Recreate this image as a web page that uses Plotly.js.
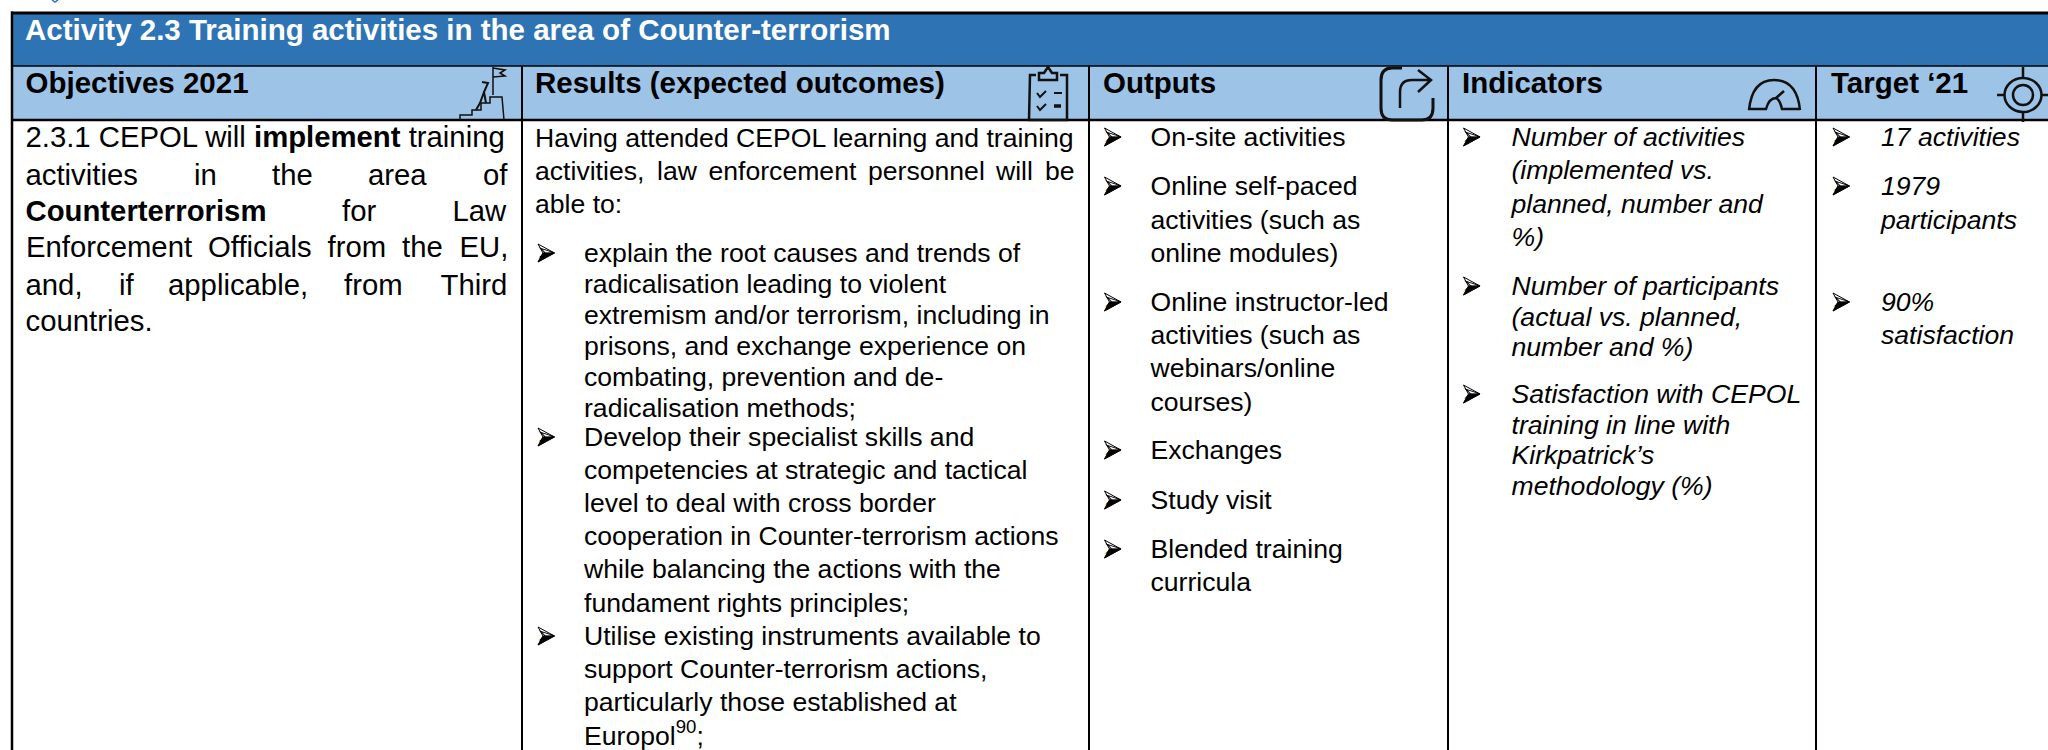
<!DOCTYPE html>
<html><head><meta charset="utf-8">
<script src="https://cdn.plot.ly/plotly-3.0.1.min.js"></script>
<style>html,body{margin:0;padding:0;background:#fff}#c{width:2048px;height:750px}</style>
</head><body><div id="c"></div>
<script>
const titleText = ["<b>Activity 2.3 Training activities in the area of Counter-terrorism</b>"];
const headers = ["<b>Objectives 2021</b>","<b>Results (expected outcomes)</b>","<b>Outputs</b>","<b>Indicators</b>","<b>Target ‘21</b>"];
const objectiveWords = ["2.3.1 CEPOL will <b>implement</b> training","activities","in","the","area","of","<b>Counterterrorism</b>","for","Law","Enforcement","Officials","from","the","EU,","and,","if","applicable,","from","Third","countries."];
const resultsIntro = ["Having attended CEPOL learning and training","activities,","law","enforcement","personnel","will","be","able to:"];
const resultsList = ["explain the root causes and trends of","radicalisation leading to violent","extremism and/or terrorism, including in","prisons, and exchange experience on","combating, prevention and de-","radicalisation methods;","Develop their specialist skills and","competencies at strategic and tactical","level to deal with cross border","cooperation in Counter-terrorism actions","while balancing the actions with the","fundament rights principles;","Utilise existing instruments available to","support Counter-terrorism actions,","particularly those established at","Europol<sup>90</sup>;"];
const outputs = ["On-site activities","Online self-paced","activities (such as","online modules)","Online instructor-led","activities (such as","webinars/online","courses)","Exchanges","Study visit","Blended training","curricula"];
const indicators = ["<i>Number of activities</i>","<i>(implemented vs.</i>","<i>planned, number and</i>","<i>%)</i>","<i>Number of participants</i>","<i>(actual vs. planned,</i>","<i>number and %)</i>","<i>Satisfaction with CEPOL</i>","<i>training in line with</i>","<i>Kirkpatrick’s</i>","<i>methodology (%)</i>"];
const targets = ["<i>17 activities</i>","<i>1979</i>","<i>participants</i>","<i>90%</i>","<i>satisfaction</i>"];
const bullet = "➢";

const FONT = "Liberation Sans, Arial, sans-serif";
const OBJ = 29.3, BODY = 26.6, LIST = 26.6, HEAD = 29.5;

const objX = [25.5,25.5,194,272,368,483,25.5,342,452.5,26,208,327.6,402,459.5,25.5,119,168,344,440.5,25.5];
const objY = [138,176,176,176,176,176,212,212,212,248,248,248,248,248,286,286,286,286,286,322];
const introX = [535,535,657,708.5,868,996,1045,535];
const introY = [138,171,171,171,171,171,171,204];
const listY = [253,284,315,346,377,408,437,470,503,536,569,603,636,669,702,736];
const outY = [137,186,220,253,302,335,368,402,450,500,549,582];
const indY = [137,170,204,237,286,317,347,394,425,455,486];
const tarY = [137,186,220,302,335];
const listBullets = [253,437,636], outBullets=[137,186,302,450,500,549], indBullets=[137,286,394], tarBullets=[137,186,302];

const NUDGE = 2;
function txt(text,x,y,size,color){
  return {type:"scatter",mode:"text",x:x,y:y.map(v=>v+NUDGE),text:text,textposition:"middle right",
    textfont:{family:FONT,size:size,color:color||"#000"},hoverinfo:"skip",showlegend:false};
}
function same(v,n){return Array.from({length:n},()=>v);}
const shapes = [];
function bul(x,ys){
  ys.forEach(y=>{
    shapes.push({type:"path",xref:"x",yref:"y",path:`M${x},${y-9} L${x+16.5},${y} L${x},${y+9} L${x+5},${y} Z`,
      line:{color:"#000",width:1},fillcolor:"#fff",layer:"below"});
    shapes.push({type:"path",xref:"x",yref:"y",path:`M${x+16.5},${y} L${x},${y+9} L${x+5},${y} Z`,
      line:{color:"#000",width:0.5},fillcolor:"#000",layer:"below"});
  });
  return {type:"scatter",mode:"text",x:same(x-2,ys.length),y:ys.map(v=>v+1),text:same(bullet,ys.length),textposition:"middle right",
    textfont:{family:"DejaVu Sans",size:24,color:"#000"},hoverinfo:"skip",showlegend:false};
}
function rect(x0,y0,x1,y1,fill){shapes.push({type:"rect",xref:"x",yref:"y",x0,y0,x1,y1,fillcolor:fill,line:{width:0},layer:"below"});}
function line(x0,y0,x1,y1,w){shapes.push({type:"line",xref:"x",yref:"y",x0,y0,x1,y1,line:{color:"#000",width:w},layer:"below"});}
function ico(path,w,fill){shapes.push({type:"path",xref:"x",yref:"y",path,line:{color:"#111",width:w||2},fillcolor:fill||"rgba(0,0,0,0)"});}
function circ(cx,cy,rx,ry,w){shapes.push({type:"circle",xref:"x",yref:"y",x0:cx-rx,x1:cx+rx,y0:cy-ry,y1:cy+ry,line:{color:"#111",width:w},fillcolor:"rgba(0,0,0,0)"});}
ico("M52,0 L55,2 L58,0",1.5);
shapes[0].line.color="#2E74B5";
rect(12,13,2048,66,"#2E74B5");
rect(12,66,2048,120,"#9DC3E6");
line(11,13,2048,13,3);
line(12,11.5,12,750,2.5);
line(12,66,2048,66,1.5);
line(12,120,2048,120,2.5);
[522,1089,1448,1816].forEach(x=>line(x,66,x,750,2));
// Objectives icon
ico("M493,67 L493,95 M493,68 L505,70 L500,73 L505,76 L493,77",1.5);
ico("M460,120 L460,115 L472,115 L472,110 L481,110 L481,103 L490,103 L490,97 L502,97 L504,120",1.5);
ico("M482,82 L488,83 L484,92 L486,103 M484,92 L480,103 L476,110",2);
// Clipboard
ico("M1036,75 L1030,75 L1029,120 L1067,120 L1067,75 L1060,75",2.5);
ico("M1039,80 L1039,73 L1044,73 L1048,67 L1052,73 L1057,73 L1057,80 Z",2.5);
ico("M1037,93 L1040,97 L1046,91 M1037,106 L1040,110 L1046,104",2);
ico("M1054,93 L1062,93",2);ico("M1054,106 L1061,106",3.5);
// Outputs arrow box
ico("M1402,68 L1392,68 Q1381,68 1381,80 L1381,108 Q1381,120 1392,120 L1422,120 Q1433,120 1433,108 L1433,98",3);
ico("M1400,108 L1400,92 Q1400,80 1412,80 L1431,80 M1418,70 L1431,80 L1418,92",2.5);
// Gauge
ico("M1749,110 Q1752,80 1774,80 Q1797,80 1800,110 M1748,109 L1766,109 Q1769,98 1776,98 L1784,91 M1776,98 Q1780,100 1782,109 L1800,109",2.5);
// Target
circ(2023,95,10,10,2.5);
circ(2023,95,18.5,17,2.5);
ico("M2023,67 L2023,78 M2023,112 L2023,122 M1997,95 L2005,95 M2042,95 L2048,95",2.5);

const traces = [
  txt(titleText,[25],[31],HEAD,"#fff"),
  txt(headers,[25.5,535,1103,1462,1831],[84,84,84,84,84],HEAD),
  txt(objectiveWords,objX,objY,OBJ),
  txt(resultsIntro,introX,introY,BODY),
  txt(resultsList,same(584,resultsList.length),listY,LIST),
  txt(outputs,same(1150.5,outputs.length),outY,LIST),
  txt(indicators,same(1511.5,indicators.length),indY,LIST),
  txt(targets,same(1881,targets.length),tarY,LIST),
  bul(538,listBullets),bul(1104.5,outBullets),bul(1463.5,indBullets),bul(1833,tarBullets)
];

Plotly.newPlot("c",traces,{
  width:2048,height:750,margin:{l:0,r:0,t:0,b:0,pad:0},
  paper_bgcolor:"#fff",plot_bgcolor:"#fff",showlegend:false,
  xaxis:{range:[0,2048],visible:false,fixedrange:true},
  yaxis:{range:[750,0],visible:false,fixedrange:true},
  shapes:shapes
},{staticPlot:true,displayModeBar:false});
</script></body></html>
